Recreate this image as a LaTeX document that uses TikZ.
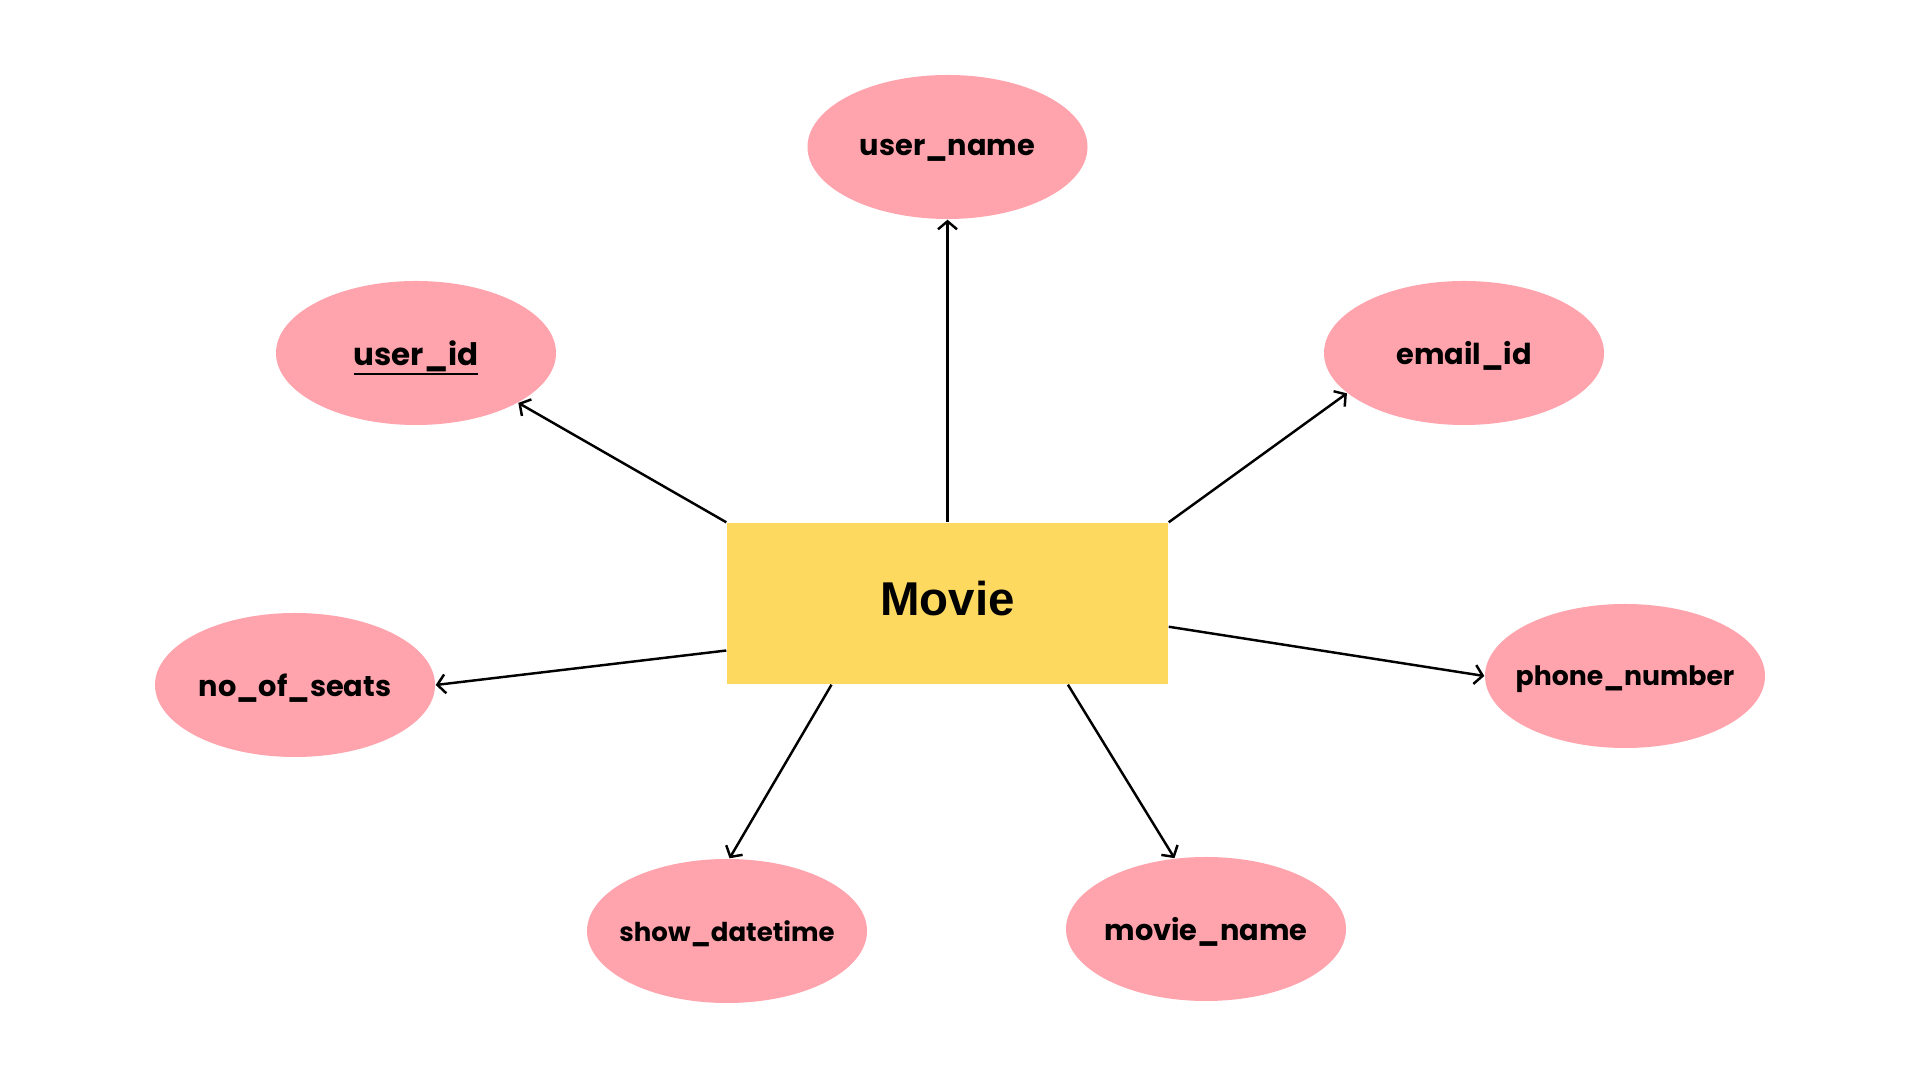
\documentclass[tikz,border=0pt]{standalone}
\usepackage{fontspec}
\setmainfont{Poppins}
\setsansfont{Liberation Sans}
\usetikzlibrary{shapes.geometric,arrows.meta}

\definecolor{attrpink}{HTML}{FFA3AD}
\definecolor{entyellow}{HTML}{FDDA5F}

% key attribute: thick rule under the name
\newcommand{\pkey}[1]{\setbox0\hbox{#1}\rlap{\rule[-2.8pt]{\wd0}{0.65pt}}\box0}

\tikzstyle{attr}=[ellipse,fill=attrpink,inner xsep=-15pt,inner ysep=0pt,text depth=0pt,minimum width=2.8cm,minimum height=1.44cm,font=\bfseries\fontsize{8.2}{10}\selectfont]
\tikzstyle{entity}=[rectangle,fill=entyellow,inner sep=0pt,text depth=2.8pt,minimum width=4.41cm,minimum height=1.61cm,font=\sffamily\bfseries\fontsize{13.5}{16}\selectfont]
\tikzstyle{link}=[-{Straight Barb[length=0.8mm,width=1.9mm]},line width=0.7pt]

\begin{document}
\begin{tikzpicture}
  \useasboundingbox[fill=white] (0,0) rectangle (19.2,10.8);

  \node[entity] (movie) at (9.475,4.765) {Movie};

  \node[attr] (uname) at (9.475,9.33) {user\_name};
  \node[attr] (uid) at (4.16,7.27) {\fontsize{8.8}{10}\selectfont\pkey{user\_id}};
  \node[attr] (email) at (14.64,7.27) {email\_id};
  \node[attr] (seats) at (2.95,3.95) {no\_of\_seats};
  \node[attr] (phone) at (16.25,4.04) {\fontsize{7.6}{10}\selectfont phone\_number};
  \node[attr] (show) at (7.27,1.49) {\fontsize{7.4}{10}\selectfont show\_datetime};
  \node[attr] (mname) at (12.06,1.51) {movie\_name};

  \draw[link] (movie.north) -- (uname.south);
  \draw[link] (movie.north west) -- (uid.-26);
  \draw[link] (movie.north east) -- (email.199);
  \draw[link] (movie.192) -- (seats.east);
  \draw[link] (movie.-6) -- (phone.west);
  \draw[link] (movie.215) -- (show.88);
  \draw[link] (movie.-34) -- (mname.114);
\end{tikzpicture}
\end{document}
